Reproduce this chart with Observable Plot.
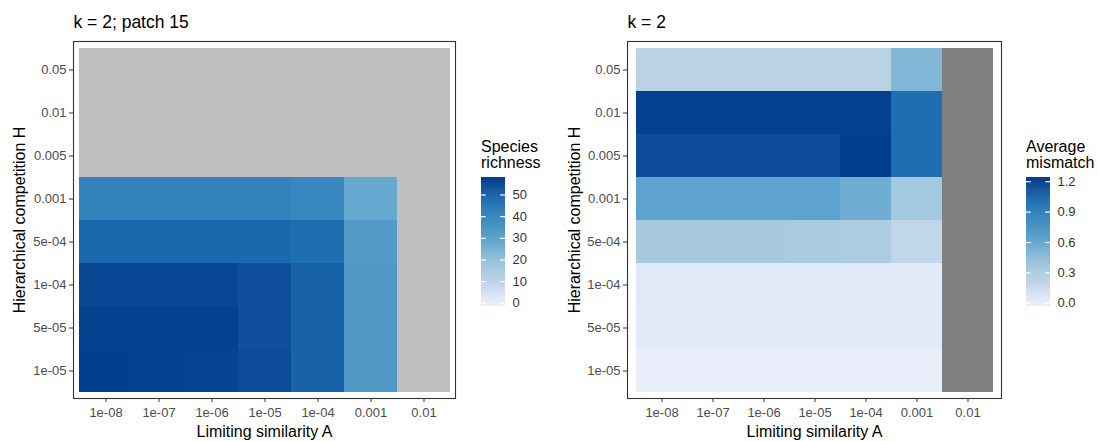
<!DOCTYPE html>
<html><head><meta charset="utf-8">
<script src="https://cdn.jsdelivr.net/npm/d3@7"></script>
<script src="https://cdn.jsdelivr.net/npm/@observablehq/plot@0.6"></script>
<style>
body{margin:0;background:#fff;}
#root{position:relative;width:1099px;height:441px;overflow:hidden;font-family:"Liberation Sans",Arial,sans-serif;background:#fff;}
.ltitle{position:absolute;font-size:16px;line-height:16px;color:#000;white-space:nowrap;}
</style></head><body><div id="root"></div>
<script>
// Categories
const A_labels = ["1e-08","1e-07","1e-06","1e-05","1e-04","0.001","0.01"];
const H_labels = ["1e-05","5e-05","1e-04","5e-04","0.001","0.005","0.01","0.05"]; // bottom -> top

// Left panel: species richness (k = 2; patch 15), one array per H row
const richness_1e05 = [56.6, 56.2, 55.6, 54, 49, 33.4, null];
const richness_5e05 = [56, 56, 56, 53, 49, 33.4, null];
const richness_1e04 = [54.8, 54.8, 54.8, 53, 49, 33.4, null];
const richness_5e04 = [47.5, 47.5, 47.5, 47.5, 46.4, 32.8, null];
const richness_0001 = [40.6, 40.6, 40.6, 40.6, 39, 28.3, null];
const richness_0005 = [null, null, null, null, null, null, null];
const richness_001  = [null, null, null, null, null, null, null];
const richness_005  = [null, null, null, null, null, null, null];
const richnessDomain = [0, 56.6];
const richnessBreaks = [0, 10, 20, 30, 40, 50];

// Right panel: average mismatch (k = 2)
const mismatch_1e05 = [0.0, 0.0, 0.0, 0.0, 0.0, 0.0, null];
const mismatch_5e05 = [0.04, 0.04, 0.04, 0.04, 0.04, 0.035, null];
const mismatch_1e04 = [0.045, 0.045, 0.045, 0.045, 0.045, 0.035, null];
const mismatch_5e04 = [0.33, 0.33, 0.33, 0.32, 0.31, 0.19, null];
const mismatch_0001 = [0.64, 0.64, 0.64, 0.64, 0.57, 0.35, null];
const mismatch_0005 = [1.15, 1.15, 1.15, 1.15, 1.21, 0.99, null];
const mismatch_001  = [1.2, 1.2, 1.2, 1.2, 1.2, 0.99, null];
const mismatch_005  = [0.24, 0.24, 0.24, 0.24, 0.24, 0.5, null];
const mismatchDomain = [0, 1.21];
const mismatchBreaks = [0, 0.3, 0.6, 0.9, 1.2];

// Blues ramp (as rendered in the reference picture)
const blues7 = ["#EAEEFA","#C0D5E9","#98C4DB","#65A8D0","#3C8CC0","#1B6BAF","#023F8E"];
const blues = d3.piecewise(d3.interpolateLab, blues7);
const FONT = "Liberation Sans, Arial, sans-serif";
const TICK_FS = 13;

const root = document.getElementById("root");

function place(node, left, top) {
  node.style.position = "absolute";
  node.style.left = left + "px";
  node.style.top = top + "px";
  root.appendChild(node);
}

function panel({rows, naColor, domain, title, left, width, marginLeft, marginRight, ydx}) {
  const cells = [];
  H_labels.forEach((h, i) => rows[i].forEach((v, j) => cells.push({A: A_labels[j], H: h, value: v})));
  const chart = Plot.plot({
    width, height: 441,
    marginLeft, marginRight, marginTop: 41, marginBottom: 43,
    style: {fontFamily: FONT, fontSize: TICK_FS + "px", background: "transparent", overflow: "visible"},
    x: {domain: A_labels, paddingInner: 0, paddingOuter: 0.1},
    y: {domain: H_labels, reverse: true, paddingInner: 0, paddingOuter: 0.1},
    color: {type: "linear", domain, interpolate: blues, clamp: true},
    marks: [
      Plot.cell(cells.filter(d => d.value == null), {x: "A", y: "H", fill: naColor}),
      Plot.cell(cells.filter(d => d.value != null), {x: "A", y: "H", fill: "value"}),
      Plot.frame({stroke: "#333", strokeWidth: 1.1}),
      Plot.axisX({tickSize: 4, tickPadding: 5, stroke: "#333", fill: "#4d4d4d", fontSize: TICK_FS, label: null}),
      Plot.axisY({tickSize: 4, tickPadding: 3, stroke: "#333", fill: "#4d4d4d", fontSize: TICK_FS, label: null}),
      Plot.text(["Limiting similarity A"], {text: d => d, frameAnchor: "bottom", dy: 33, textAnchor: "middle", lineAnchor: "middle", fontSize: 16, fill: "#000"}),
      Plot.text(["Hierarchical competition H"], {text: d => d, frameAnchor: "left", dx: ydx, rotate: -90, textAnchor: "middle", lineAnchor: "middle", fontSize: 16, fill: "#000"}),
      Plot.text([title], {text: d => d, frameAnchor: "top-left", textAnchor: "start", lineAnchor: "middle", dy: -19, fontSize: 17.5, fill: "#000"})
    ]
  });
  place(chart, left, 0);
}

function legend({left, domain, breaks, fmt, titleLines}) {
  const [lo, hi] = domain;
  const pad = (hi - lo) / 38;
  const y0 = lo - pad, y1 = hi + pad;
  const N = 130;
  const step = (y1 - y0) / N;
  const bins = d3.range(N).map(i => ({a: y0 + step * i, b: Math.min(y1, y0 + step * (i + 1.6))}));
  const chart = Plot.plot({
    width: 24 + 45, height: 129 + 20,
    marginLeft: 0, marginRight: 45, marginTop: 10, marginBottom: 10,
    style: {fontFamily: FONT, fontSize: TICK_FS + "px", background: "transparent", overflow: "visible"},
    x: {domain: [0, 1], axis: null},
    y: {domain: [y0, y1]},
    color: {type: "linear", domain, interpolate: blues, clamp: true},
    marks: [
      Plot.rect(bins, {x1: 0, x2: 1, y1: "a", y2: "b", fill: d => d.a + step / 2}),
      Plot.ruleY(breaks, {x1: 0, x2: 0.2, stroke: "white", strokeWidth: 1.2}),
      Plot.ruleY(breaks, {x1: 0.8, x2: 1, stroke: "white", strokeWidth: 1.2}),
      Plot.axisY({ticks: breaks, anchor: "right", tickSize: 0, tickPadding: 7, tickFormat: fmt, fill: "#333", fontSize: TICK_FS, label: null})
    ]
  });
  place(chart, left, 167);
  const t = document.createElement("div");
  t.className = "ltitle";
  t.innerHTML = titleLines.join("<br>");
  t.style.left = left + "px";
  t.style.top = "139px";
  root.appendChild(t);
}

panel({
  rows: [richness_1e05, richness_5e05, richness_1e04, richness_5e04, richness_0001, richness_0005, richness_001, richness_005],
  naColor: "#bebebe", domain: richnessDomain, title: "k = 2; patch 15",
  left: 0, width: 470, marginLeft: 73, marginRight: 15, ydx: -54
});
legend({left: 481, domain: richnessDomain, breaks: richnessBreaks, fmt: d => String(d), titleLines: ["Species", "richness"]});

panel({
  rows: [mismatch_1e05, mismatch_5e05, mismatch_1e04, mismatch_5e04, mismatch_0001, mismatch_0005, mismatch_001, mismatch_005],
  naColor: "#7f7f7f", domain: mismatchDomain, title: "k = 2",
  left: 550, width: 470, marginLeft: 77, marginRight: 19, ydx: -53
});
legend({left: 1026, domain: mismatchDomain, breaks: mismatchBreaks, fmt: d => d.toFixed(1), titleLines: ["Average", "mismatch"]});
</script>
</body></html>
